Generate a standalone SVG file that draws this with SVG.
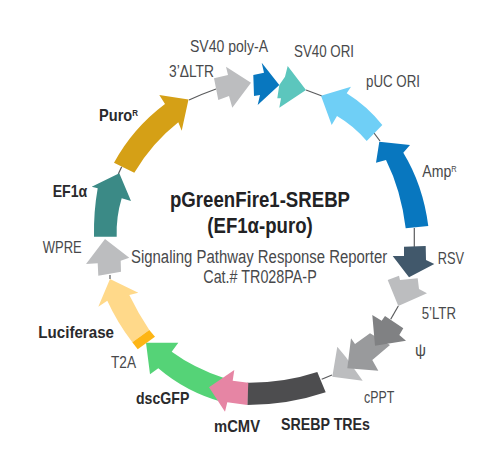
<svg xmlns="http://www.w3.org/2000/svg" width="483" height="456" viewBox="0 0 483 456">
<style>
text{font-family:"Liberation Sans",Arial,sans-serif;font-size:17px;fill:#48494b}
.b{font-weight:700;fill:#2a2a2c;font-size:16.5px}
.t{font-weight:700;fill:#222224;font-size:22px}
.c{font-size:19px}
.s{font-size:9px}
.ln{fill:none;stroke:#5a5b5d;stroke-width:1.2}
</style>
<rect width="483" height="456" fill="#fff"/>
<g id="connectors">
<path class="ln" d="M189 100Q202 94 216 89"/>
<path class="ln" d="M306 90L322 96"/>
<path class="ln" d="M374 133L380 141"/>
<path class="ln" d="M414.3 228V247" stroke-width="1.6"/>
<path class="ln" d="M398.3 306L390.7 319.3"/>
<path class="ln" d="M332 375L321.7 379.3"/>
<path class="ln" d="M110 279V275"/>
<path class="ln" d="M121.7 166.7L118.3 174"/>
</g>
<g id="title">
<text class="t" x="170" y="206.7" textLength="180" lengthAdjust="spacingAndGlyphs">pGreenFire1-SREBP</text>
<text class="t" x="207.3" y="233.3" textLength="105.4" lengthAdjust="spacingAndGlyphs">(EF1α-puro)</text>
<text class="c" transform="translate(131 262.7) scale(.785 1)">Signaling Pathway Response Reporter</text>
<text class="c" x="203.3" y="283" textLength="113.4" lengthAdjust="spacingAndGlyphs">Cat.# TR028PA-P</text>
</g>
<g id="puro">
<path fill="#d5a016" d="M188.5 99.5L159.3 95L165 104Q133 128 114 162.7L134.3 172.7Q152 143 178.3 122.3L181.7 130.7Z"/>
<text class="b" transform="translate(99 120.7) scale(.884 1)">Puro<tspan class="s" dy="-5">R</tspan></text>
</g>
<g id="ltr3">
<path fill="#bcbdbf" d="M251 82.7L226 66.7L228 75L214 78.3L218.3 100L229 96L232.3 107.7Z"/>
<text x="169" y="76.7" textLength="45" lengthAdjust="spacingAndGlyphs">3’ΔLTR</text>
</g>
<g id="sv40polya">
<path fill="#0877bf" d="M261.7 62.7L279.3 85L257.7 105L260 95L254 96L253.3 75L264 72.7Z"/>
<text x="190" y="51.7" textLength="78" lengthAdjust="spacingAndGlyphs">SV40 poly-A</text>
</g>
<g id="sv40ori">
<path fill="#5cc6bd" d="M306 90L287.7 66L285 76.7L279.3 85L277.3 98.3L281 98.3L279.3 107.7Z"/>
<text x="294" y="57" textLength="60" lengthAdjust="spacingAndGlyphs">SV40 ORI</text>
</g>
<g id="puc">
<path fill="#6fcff6" d="M321 95.7L351 86.7L346.7 93.3Q367 106 382.3 125L366.7 141Q354 126 337 116L331.7 125Z"/>
<text x="366" y="87" textLength="54" lengthAdjust="spacingAndGlyphs">pUC ORI</text>
</g>
<g id="amp">
<path fill="#0877bf" d="M379.3 141.7L410 145L403.3 152.7Q423 185 428.3 226L405.7 228.3Q401 190 386 160L376 162.7Z"/>
<text transform="translate(422.3 176.7) scale(.83 1)">Amp<tspan class="s" dy="-5">R</tspan></text>
</g>
<g id="rsv">
<path fill="#41586b" d="M404 246.7L425.7 246L426 260L434.3 264L409 277.3L392.7 256L404 256Z"/>
<text x="437.7" y="264.3" textLength="26.3" lengthAdjust="spacingAndGlyphs">RSV</text>
</g>
<g id="ltr5">
<path fill="#bcbdbf" d="M387.7 280L399 275.7L400 280L417.7 278.3L419 289L427 293.3L398.3 306Z"/>
<text x="421.7" y="319" textLength="34.3" lengthAdjust="spacingAndGlyphs">5’LTR</text>
</g>
<g id="cppt">
<path fill="#bcbdbf" d="M337.3 346.7L346 357.3L355 370L362.7 380.7L332.3 376.7Z"/>
<text x="364" y="402.7" textLength="30.3" lengthAdjust="spacingAndGlyphs">cPPT</text>
</g>
<g id="rre">
<path fill="#999a9c" d="M351 338.3L355 344L370 333.3L390 345L372.3 360L378.3 370.7L347.3 368.3Z"/>
</g>
<g id="psi">
<path fill="#808183" d="M372.3 315L381.7 320.7L385 316L403.3 328.3L399.3 335L406 340.7L375 345.7Z"/>
<text x="415" y="356" textLength="11" lengthAdjust="spacingAndGlyphs">ψ</text>
</g>
<g id="tres">
<path fill="#4d4d4f" d="M317.3 372L325.7 392.3Q288 405 247.3 405L247.3 382.7Q284 383 317.3 372Z"/>
<text class="b" x="281" y="430" textLength="89" lengthAdjust="spacingAndGlyphs">SREBP TREs</text>
</g>
<g id="dscgfp">
<path fill="#55d377" d="M146 342.7L178.3 342.7L171.7 351.7Q194 368 224 378L222 402Q186 392 158.3 368.3L150 374.3Z"/>
<text class="b" x="136" y="404" textLength="53.3" lengthAdjust="spacingAndGlyphs">dscGFP</text>
</g>
<g id="mcmv">
<path fill="#e685a4" d="M209 387.3L234.3 370L232.7 380.7L248.3 382.7L247.3 405L227.3 402.3L225 411.7Z"/>
<text class="b" x="214" y="431.7" textLength="46" lengthAdjust="spacingAndGlyphs">mCMV</text>
</g>
<g id="luciferase">
<path fill="#ffd98a" d="M110 279L138.3 292.7L129.3 295Q138 313 149.3 330L132.3 342.3Q117 322 107.3 300.7L98.3 306.7Z"/>
<text class="b" x="38.3" y="338" textLength="75.7" lengthAdjust="spacingAndGlyphs">Luciferase</text>
</g>
<g id="t2a">
<path fill="#fdb515" d="M149.3 330L155 336.7L137.7 349.3L132.3 342.3Z"/>
<text x="111" y="368.3" textLength="25" lengthAdjust="spacingAndGlyphs">T2A</text>
</g>
<g id="wpre">
<path fill="#bcbdbf" d="M105 239L129.3 257.7L120.7 260.7L121 271.7L98.3 275.7L97.7 263.3L86 264Z"/>
<text x="42.7" y="253" textLength="39" lengthAdjust="spacingAndGlyphs">WPRE</text>
</g>
<g id="ef1a">
<path fill="#3b8a86" d="M119.3 173.3L131 201L121.7 198.3Q116 217 116.7 236.7L94 236.7Q93.5 212 97.7 188.3L91.7 186.7Z"/>
<text class="b" x="52.7" y="197.3" textLength="34.6" lengthAdjust="spacingAndGlyphs">EF1α</text>
</g>
</svg>
